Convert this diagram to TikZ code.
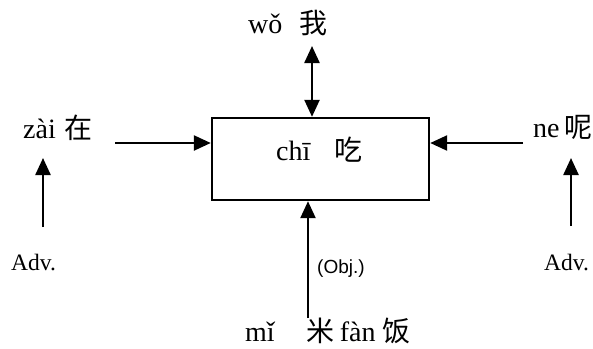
\documentclass[tikz,border=0pt]{standalone}
\usepackage{fontspec}
\setmainfont{Liberation Serif}
\newfontfamily\cjk{Noto Sans CJK SC}
\newfontfamily\objfont{Liberation Sans}
\usetikzlibrary{arrows.meta}

\begin{document}
\begin{tikzpicture}[x=1pt, y=-1pt,
  lbl/.style={inner sep=0pt, anchor=base west, font=\fontsize{28}{30}\selectfont},
  adv/.style={inner sep=0pt, anchor=base west, font=\fontsize{23.5}{25}\selectfont},
  arr/.style={line width=2.4pt, -{Triangle[length=17pt, width=15pt]}},
  dbl/.style={line width=2.4pt, {Triangle[length=17pt, width=15pt]}-{Triangle[length=17pt, width=15pt]}},
  verbbox/.style={draw, line width=2.4pt, minimum width=217pt, minimum height=82pt, inner sep=0pt}]
\useasboundingbox (0,0) rectangle (593,348);

% central verb
\node[verbbox] (verb) at (320.5,159) {};
\node[lbl] (chi) at (276,160) {chī\hspace{24pt}{\cjk 吃}};

% subject above
\node[lbl] (wo) at (248,33) {wǒ\hspace{17pt}{\cjk 我}};
\coordinate (woend) at (312,46);
\draw[dbl] (woend) -- (verb.north -| woend);

% adverbial on the left
\node[lbl] (zai) at (23,138) {zài\hspace{9pt}{\cjk 在}};
\coordinate (zaiout) at (115,143);
\draw[arr] (zaiout) -- (verb.west |- zaiout);
\node[adv] (advl) at (11,270) {Adv.};
\coordinate (advlfrom) at (43,227);
\coordinate (advlto) at (43,158);
\draw[arr] (advlfrom) -- (advlto);

% particle on the right
\node[lbl] (ne) at (533,137) {ne\hspace{5pt}{\cjk 呢}};
\coordinate (neout) at (523,143);
\draw[arr] (neout) -- (verb.east |- neout);
\node[adv] (advr) at (544,270) {Adv.};
\coordinate (advrfrom) at (571,226);
\coordinate (advrto) at (571,158);
\draw[arr] (advrfrom) -- (advrto);

% object below
\node[lbl] (obj) at (245,341) {mǐ\hspace{32pt}{\cjk 米}\hspace{5pt}fàn\hspace{7pt}{\cjk 饭}};
\coordinate (objfrom) at (308,318);
\draw[arr] (objfrom) -- (verb.south -| objfrom);
\node[inner sep=0pt, anchor=base west, font=\objfont\fontsize{19}{21}\selectfont] (objlbl) at (317,273) {(Obj.)};
\end{tikzpicture}
\end{document}
